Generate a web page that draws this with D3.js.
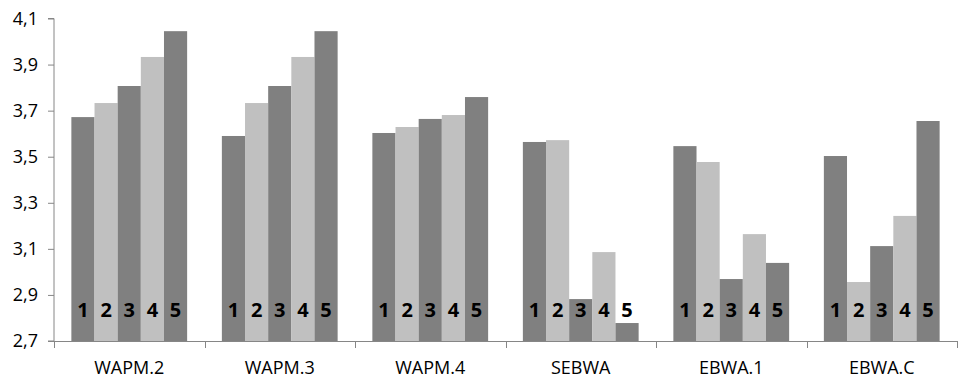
<!DOCTYPE html>
<html>
<head>
<meta charset="utf-8">
<script src="https://cdn.jsdelivr.net/npm/d3@7"></script>
<style>
  html, body { margin: 0; padding: 0; background: #fff; }
  svg { display: block; }
</style>
</head>
<body>
<svg id="chart" width="962" height="383"></svg>
<script>
const categories = ["WAPM.2", "WAPM.3", "WAPM.4", "SEBWA", "EBWA.1", "EBWA.C"];
const seriesNames = ["1", "2", "3", "4", "5"];
const series1 = [3.672, 3.590, 3.603, 3.564, 3.546, 3.503];
const series2 = [3.733, 3.733, 3.629, 3.572, 3.477, 2.956];
const series3 = [3.807, 3.807, 3.664, 2.882, 2.969, 3.112];
const series4 = [3.933, 3.933, 3.681, 3.086, 3.164, 3.243];
const series5 = [4.045, 4.045, 3.759, 2.778, 3.039, 3.655];
const yTicks = [2.7, 2.9, 3.1, 3.3, 3.5, 3.7, 3.9, 4.1];
const seriesColors = ["#808080", "#c0c0c0", "#808080", "#c0c0c0", "#808080"];

const allSeries = [series1, series2, series3, series4, series5];
const svg = d3.select("#chart");
const plotLeft = 54, plotRight = 957, plotTop = 18.5, plotBottom = 341;

const x0 = d3.scaleBand().domain(categories).range([plotLeft, plotRight]).paddingInner(0).paddingOuter(0);
const x1 = d3.scaleBand().domain(seriesNames).range([0, x0.bandwidth()]).paddingInner(0).paddingOuter(0.75);
const y = d3.scaleLinear().domain([2.7, 4.1]).range([plotBottom, plotTop]);

// bars
const groups = svg.append("g").selectAll("g").data(categories).join("g")
  .attr("transform", d => `translate(${x0(d)},0)`);
groups.selectAll("rect")
  .data((c, i) => seriesNames.map((s, j) => ({ s, j, v: allSeries[j][i] })))
  .join("rect")
  .attr("x", d => x1(d.s))
  .attr("width", x1.bandwidth())
  .attr("y", d => y(d.v))
  .attr("height", d => y(2.7) - y(d.v))
  .attr("fill", d => seriesColors[d.j]);

// bar labels
groups.selectAll("text")
  .data((c, i) => seriesNames.map((s, j) => ({ s, j })))
  .join("text")
  .attr("x", d => x1(d.s) + x1.bandwidth() / 2)
  .attr("y", y(2.7) - 24)
  .attr("text-anchor", "middle")
  .attr("font-family", "'Open Sans', sans-serif")
  .attr("font-weight", "bold")
  .attr("font-size", 20)
  .attr("fill", "#000")
  .text(d => d.s);

// y axis
const yAxis = d3.axisLeft(y).tickValues(yTicks).tickSize(6).tickPadding(10)
  .tickFormat(d => d3.format(".1f")(d).replace(".", ","));
const gy = svg.append("g").attr("transform", `translate(${plotLeft},0)`).call(yAxis);
gy.select(".domain").attr("stroke", "#868686").attr("d", `M-6,${plotTop}H0V${plotBottom}H-6`);
gy.selectAll(".tick line").attr("stroke", "#868686");
gy.selectAll(".tick text").attr("font-family", "'Open Sans', sans-serif").attr("font-size", 18).attr("fill", "#000");

// x axis
const gx = svg.append("g").attr("transform", `translate(0,${plotBottom})`);
gx.append("line").attr("x1", plotLeft).attr("x2", plotRight).attr("y1", 0.5).attr("y2", 0.5).attr("stroke", "#868686");
const boundaries = categories.map(c => x0(c)).concat([x0(categories[categories.length - 1]) + x0.bandwidth()]);
gx.selectAll("line.tk").data(boundaries).join("line").attr("class", "tk")
  .attr("x1", d => Math.round(d) + 0.5).attr("x2", d => Math.round(d) + 0.5)
  .attr("y1", 0).attr("y2", 7).attr("stroke", "#868686");
gx.selectAll("text").data(categories).join("text")
  .attr("x", d => x0(d) + x0.bandwidth() / 2)
  .attr("y", 33)
  .attr("text-anchor", "middle")
  .attr("font-family", "'Open Sans', sans-serif")
  .attr("font-size", 18)
  .attr("fill", "#000")
  .text(d => d);
</script>
</body>
</html>
